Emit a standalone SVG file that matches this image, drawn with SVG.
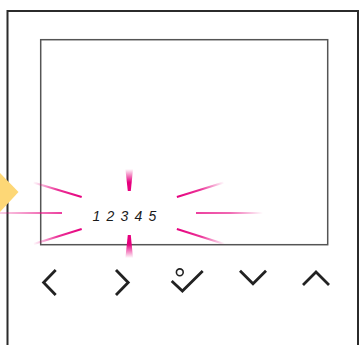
<svg xmlns="http://www.w3.org/2000/svg" width="359" height="345" viewBox="0 0 359 345">
<style>
.frame{fill:none;stroke:#2b2b2b;stroke-width:2}
.screen{fill:#fff;stroke:#555;stroke-width:1.5}
.key{fill:none;stroke:#222;stroke-width:2.8;stroke-linejoin:miter}
.num{font-family:"Liberation Sans",Arial,sans-serif;font-style:italic;font-size:14px;fill:#1a1a1a;letter-spacing:1.16px}
</style>
<defs>
<linearGradient id="g1" gradientUnits="userSpaceOnUse" x1="82" y1="197" x2="33" y2="182"><stop offset="0" stop-color="#e6007e"/><stop offset=".5" stop-color="#e6007e" stop-opacity=".8"/><stop offset="1" stop-color="#e6007e" stop-opacity="0"/></linearGradient>
<linearGradient id="g2" gradientUnits="userSpaceOnUse" x1="62" y1="213" x2="0" y2="213"><stop offset="0" stop-color="#e6007e"/><stop offset="1" stop-color="#e6007e" stop-opacity=".25"/></linearGradient>
<linearGradient id="g3" gradientUnits="userSpaceOnUse" x1="82" y1="229" x2="33" y2="244"><stop offset="0" stop-color="#e6007e"/><stop offset=".5" stop-color="#e6007e" stop-opacity=".8"/><stop offset="1" stop-color="#e6007e" stop-opacity="0"/></linearGradient>
<linearGradient id="g4" gradientUnits="userSpaceOnUse" x1="129" y1="191" x2="129" y2="169"><stop offset="0" stop-color="#e6007e"/><stop offset=".4" stop-color="#e6007e"/><stop offset="1" stop-color="#e6007e" stop-opacity="0"/></linearGradient>
<linearGradient id="g5" gradientUnits="userSpaceOnUse" x1="129" y1="235" x2="129" y2="258"><stop offset="0" stop-color="#e6007e"/><stop offset=".4" stop-color="#e6007e"/><stop offset="1" stop-color="#e6007e" stop-opacity="0"/></linearGradient>
<linearGradient id="g6" gradientUnits="userSpaceOnUse" x1="177" y1="197" x2="224" y2="182"><stop offset="0" stop-color="#e6007e"/><stop offset=".5" stop-color="#e6007e" stop-opacity=".8"/><stop offset="1" stop-color="#e6007e" stop-opacity="0"/></linearGradient>
<linearGradient id="g7" gradientUnits="userSpaceOnUse" x1="196" y1="213" x2="263" y2="213"><stop offset="0" stop-color="#e6007e"/><stop offset=".5" stop-color="#e6007e" stop-opacity=".8"/><stop offset="1" stop-color="#e6007e" stop-opacity="0"/></linearGradient>
<linearGradient id="g8" gradientUnits="userSpaceOnUse" x1="177" y1="229" x2="225" y2="244"><stop offset="0" stop-color="#e6007e"/><stop offset=".5" stop-color="#e6007e" stop-opacity=".8"/><stop offset="1" stop-color="#e6007e" stop-opacity="0"/></linearGradient>
</defs>
<rect width="359" height="345" fill="#fff"/>
<path id="device" class="frame" d="M7.5 345V11H358V345"/>
<polygon id="pointer" points="0,173 18.5,192 0,212" fill="#fdd776"/>
<rect id="screen" class="screen" x="40.7" y="39.7" width="287" height="205"/>
<g id="rays">
<polygon points="82,196 81.4,198 33,183.6 33.6,181.6" fill="url(#g1)"/>
<polygon points="62,212.2 62,213.8 0,213.8 0,212.2" fill="url(#g2)"/>
<polygon points="81.4,228 82,230 34,245 33.4,243" fill="url(#g3)"/>
<polygon points="125.4,169 133,169 130.8,191 127.8,191" fill="url(#g4)"/>
<polygon points="127.8,235 130.8,235 133,258 125.4,258" fill="url(#g5)"/>
<polygon points="176.6,196 177.2,198 224,183.6 223.4,181.6" fill="url(#g6)"/>
<polygon points="196,212.2 263,212.2 263,213.8 196,213.8" fill="url(#g7)"/>
<polygon points="177.2,228 176.6,230 224,245 224.6,243" fill="url(#g8)"/>
</g>
<text id="digits" class="num" x="92.5" y="221">1 2 3 4 5</text>
<g id="buttons">
<path id="key-left" class="key" d="M55.7 270L43.6 282.5L55.7 295"/>
<path id="key-right" class="key" d="M116 270L128.2 282.5L116 295"/>
<g id="key-ok"><path class="key" d="M171.7 281L182.4 291L202.7 271"/><circle cx="179.8" cy="272.3" r="3.4" fill="none" stroke="#222" stroke-width="1.6"/></g>
<path id="key-down" class="key" d="M240 270.7L253 283.7L266 270.7"/>
<path id="key-up" class="key" d="M303 285L316 272L329 285"/>
</g>
</svg>
